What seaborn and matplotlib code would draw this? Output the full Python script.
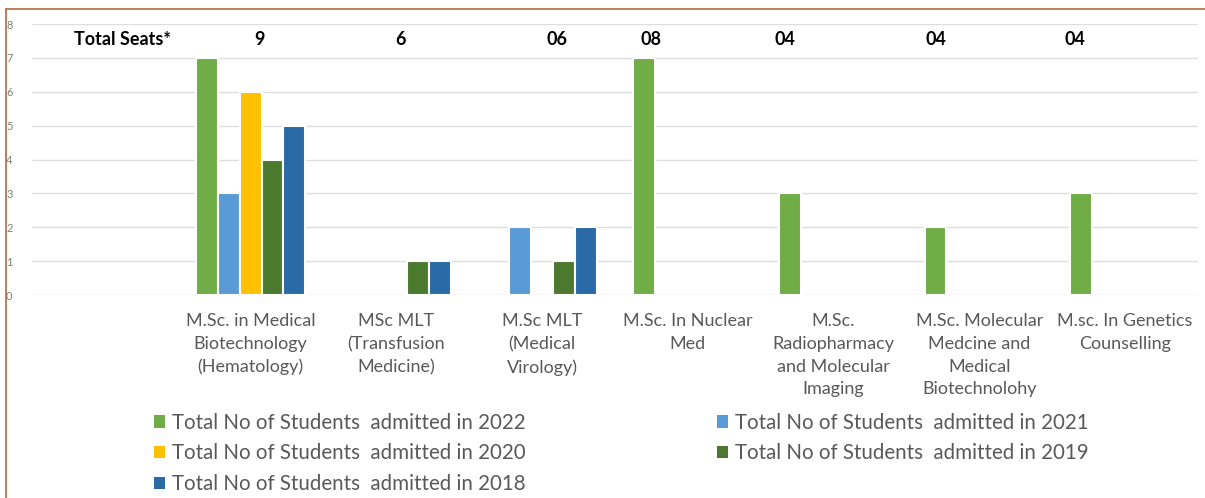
import matplotlib
matplotlib.use("Agg")
import matplotlib.pyplot as plt
from matplotlib.lines import Line2D
from matplotlib.patches import Patch
import seaborn as sns
import pandas as pd

# programmes (first slot is left empty for the "Total Seats*" caption)
programmes = [
    "M.Sc. in Medical\nBiotechnology\n(Hematology)",
    "MSc MLT\n(Transfusion\nMedicine)",
    "M.Sc MLT\n(Medical\nVirology)",
    "M.Sc. In Nuclear\nMed",
    "M.Sc.\nRadiopharmacy\nand Molecular\nImaging",
    "M.Sc. Molecular\nMedcine and\nMedical\nBiotechnolohy",
    "M.sc. In Genetics\nCounselling",
]
total_seats = ["9", "6", "06", "08", "04", "04", "04"]

years = ["2022", "2021", "2020", "2019", "2018"]
admitted_2022 = [7, 0, 0, 7, 3, 2, 3]
admitted_2021 = [3, 0, 2, 0, 0, 0, 0]
admitted_2020 = [6, 0, 0, 0, 0, 0, 0]
admitted_2019 = [4, 1, 1, 0, 0, 0, 0]
admitted_2018 = [5, 1, 2, 0, 0, 0, 0]

series = [admitted_2022, admitted_2021, admitted_2020, admitted_2019, admitted_2018]
rows = []
for yr, vals in zip(years, series):
    for prog, v in zip(programmes, vals):
        rows.append({"programme": prog, "year": "Total No of Students  admitted in " + yr, "students": v})
df = pd.DataFrame(rows)

colors = ["#70AD47", "#5B9BD5", "#FFC000", "#4B7A2E", "#2A6AA6"]

sns.set_style("white")
plt.rcParams["font.family"] = ["Lato", "DejaVu Sans"]

fig = plt.figure(figsize=(12.05, 4.98), dpi=100)
ax = fig.add_axes([0.0266, 0.4076, 0.9674, 0.5442])

order = [""] + programmes
sns.barplot(data=df, x="programme", y="students", hue="year", order=order,
            palette=colors, saturation=1, width=0.75, edgecolor="white", linewidth=1.5,
            ax=ax, legend=False)

# hide the outline of empty (zero) bars
for p in ax.patches:
    if p.get_height() == 0:
        p.set_visible(False)

ax.set_ylim(0, 8)
ax.set_xlim(-0.5, len(order) - 0.5)
ax.set_yticks(range(0, 9))
ax.tick_params(axis="y", labelsize=8, labelcolor="#7f7f7f", length=0, pad=14)
ax.tick_params(axis="x", labelsize=13, labelcolor="#595959", length=0, pad=13)
for lbl in ax.get_xticklabels():
    lbl.set_linespacing(1.52)
ax.yaxis.grid(True, color="#dedede", linewidth=1)
ax.set_axisbelow(True)
ax.set_xlabel("")
ax.set_ylabel("")
sns.despine(ax=ax, left=True, bottom=True)

# total seats row
seat_x = [1.06, 2.03, 3.1, 3.75, 4.67, 5.7, 6.66]
ax.text(0.12, 7.53, "Total Seats*", ha="center", va="center", fontsize=13, fontweight="bold", color="black")
for x, s in zip(seat_x, total_seats):
    ax.text(x, 7.53, s, ha="center", va="center", fontsize=13, fontweight="bold", color="black")

# legend, row-wise order
handles = [Patch(facecolor=c, edgecolor="none") for c in colors]
labels = ["Total No of Students  admitted in " + y for y in years]
idx = [0, 2, 4, 1, 3]
ax.legend([handles[i] for i in idx], [labels[i] for i in idx], ncol=2,
          loc="upper left", bbox_to_anchor=(0.119, 0.192), bbox_transform=fig.transFigure,
          frameon=False, fontsize=14.8, labelcolor="#595959",
          handlelength=0.55, handleheight=0.55, handletextpad=0.35,
          columnspacing=9.3, labelspacing=0.52, borderpad=0)

# frame lines of the picture
fig.add_artist(Line2D([0.005, 1.0], [0.982, 0.982], color="#b5693b", linewidth=1.2, transform=fig.transFigure))
fig.add_artist(Line2D([0.005, 0.005], [0.0, 0.982], color="#b5693b", linewidth=1.2, transform=fig.transFigure))

fig.savefig("out.png", dpi=100)
